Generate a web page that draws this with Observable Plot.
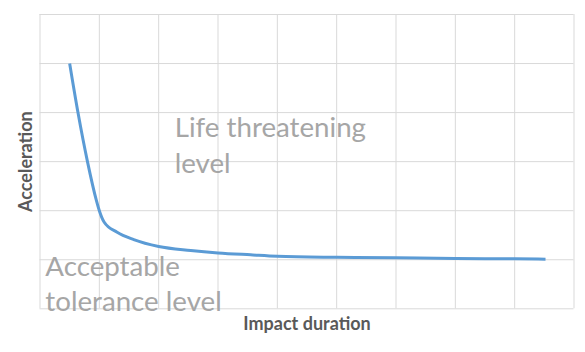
<!DOCTYPE html>
<html>
<head>
<meta charset="utf-8">
<script src="https://cdn.jsdelivr.net/npm/d3@7"></script>
<script src="https://cdn.jsdelivr.net/npm/@observablehq/plot@0.6"></script>
<style>
  html, body { margin: 0; padding: 0; background: #fff; }
  #chart svg { display: block; }
</style>
</head>
<body>
<div id="chart"></div>
<script>
// Curve: impact duration (x) vs acceleration (y), in gridline units
const durations = [0.5, 0.64, 0.8, 0.95, 1.0, 1.08, 1.3, 1.58, 2.0, 2.54, 3.0, 3.55, 4.0, 5.0, 6.0, 7.0, 8.0, 8.52];
const accelerations = [5.0, 4.0, 3.0, 2.21, 2.0, 1.77, 1.56, 1.41, 1.27, 1.19, 1.14, 1.10, 1.07, 1.05, 1.04, 1.025, 1.02, 1.01];

// Grid ticks
const xTicks = [0, 1, 2, 3, 4, 5, 6, 7, 8, 9];
const yTicks = [0, 1, 2, 3, 4, 5, 6];

// Annotation labels (data-space anchors)
const labelTexts = ["Life threatening", "level", "Acceptable", "tolerance level"];
const labelX = [2.27, 2.27, 0.09, 0.09];
const labelY = [3.5, 2.76, 0.665, -0.035];

const xTitle = "Impact duration";
const yTitle = "Acceleration";

const curve = durations.map((d, i) => ({x: d, y: accelerations[i]}));
const labels = labelTexts.map((t, i) => ({text: t, x: labelX[i], y: labelY[i]}));

const chart = Plot.plot({
  width: 585,
  height: 352,
  marginLeft: 39.5,
  marginRight: 11.5,
  marginTop: 14,
  marginBottom: 43.7,
  style: {fontFamily: "Lato, sans-serif", background: "#fff"},
  x: {domain: [0, 9], axis: null},
  y: {domain: [0, 6], axis: null},
  marks: [
    Plot.ruleX(xTicks, {stroke: "#D9D9D9", strokeWidth: 1}),
    Plot.ruleY(yTicks, {stroke: "#D9D9D9", strokeWidth: 1}),
    Plot.line(curve, {x: "x", y: "y", stroke: "#5B9BD5", strokeWidth: 3, curve: "monotone-x", strokeLinecap: "butt"}),
    Plot.text(labels, {x: "x", y: "y", text: "text", textAnchor: "start", lineAnchor: "bottom", fill: "#A6A6A6", fontSize: 27.7}),
    Plot.text([xTitle], {frameAnchor: "bottom", lineAnchor: "bottom", dy: 21, fill: "#595959", fontSize: 18, fontWeight: "bold"}),
    Plot.text([yTitle], {frameAnchor: "left", textAnchor: "middle", lineAnchor: "middle", dx: -14, rotate: -90, fill: "#595959", fontSize: 18, fontWeight: "bold"})
  ]
});
document.getElementById("chart").appendChild(chart);
</script>
</body>
</html>
